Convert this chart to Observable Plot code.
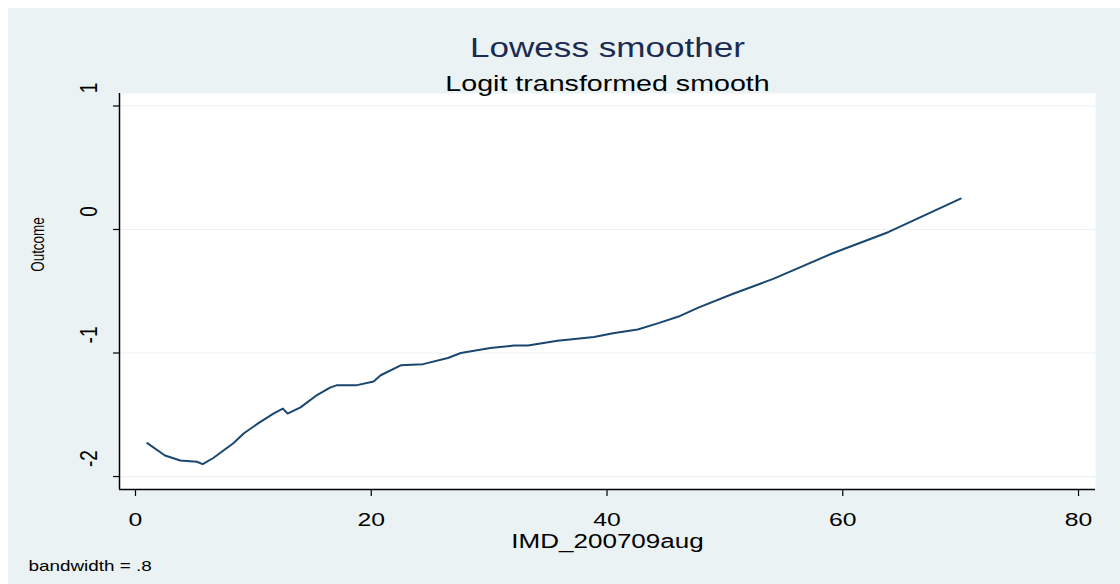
<!DOCTYPE html>
<html>
<head>
<meta charset="utf-8">
<script src="https://cdn.jsdelivr.net/npm/d3@7"></script>
<script src="https://cdn.jsdelivr.net/npm/@observablehq/plot@0.6"></script>
<style>
  html, body { margin: 0; padding: 0; overflow: hidden; background: #ffffff; }
  #wrap { padding: 8px 0 0 8px; width: 1112px; height: 576px; }
  svg { display: block; }
</style>
</head>
<body>
<div id="wrap"></div>
<script>
// ---- data ----
const imd = [1, 2.5, 3.8, 5.2, 5.7, 6.6, 8.3, 9.2, 10.4, 11.7, 12.5, 12.9, 14, 15.4, 16.5, 17.1, 18.2, 18.8, 20.2, 20.8, 22.5, 24.4, 26.5, 27.6, 30.1, 32.1, 33.3, 35.8, 38.9, 40.5, 42.6, 44.3, 46.2, 47.8, 50.7, 54.1, 59.2, 63.9, 70];
const outcome = [-1.73, -1.83, -1.87, -1.88, -1.90, -1.85, -1.73, -1.65, -1.57, -1.49, -1.45, -1.49, -1.44, -1.34, -1.28, -1.26, -1.26, -1.26, -1.23, -1.18, -1.10, -1.09, -1.04, -1.00, -0.96, -0.94, -0.94, -0.90, -0.87, -0.84, -0.81, -0.76, -0.70, -0.63, -0.52, -0.40, -0.19, -0.02, 0.25];
const xTicks = [0, 20, 40, 60, 80];
const yTicks = [-2, -1, 0, 1];
const titleText = "Lowess smoother";
const subtitleText = "Logit transformed smooth";
const xLabel = "IMD_200709aug";
const yLabel = "Outcome";
const noteText = "bandwidth = .8";

const data = imd.map((x, i) => ({x, y: outcome[i]}));

const W = 1112, H = 576;
const ml = 111, mr = 25, mt = 85, mb = 95;
const xDom = [-1.357, 81.44];
const yDom = [-2.105, 1.101];
const navy = "#1a476f";
const bg = "#eaf2f3";
const font = "'Liberation Sans', Arial, Helvetica, sans-serif";
const C = {textAnchor: "middle", lineAnchor: "middle", fill: "black"};

const chart = Plot.plot({
  width: W,
  height: H,
  marginLeft: ml,
  marginRight: mr,
  marginTop: mt,
  marginBottom: mb,
  style: {background: bg, fontFamily: font, overflow: "visible"},
  x: {domain: xDom, axis: null},
  y: {domain: yDom, axis: null},
  marks: [
    Plot.frame({fill: "white", stroke: null}),
    Plot.gridY(yTicks, {stroke: bg, strokeOpacity: 1, strokeWidth: 1.2}),
    Plot.line(data, {x: "x", y: "y", stroke: navy, strokeWidth: 2}),
    // axis lines
    Plot.ruleX([xDom[0]], {stroke: "black", strokeWidth: 1.5}),
    Plot.ruleY([yDom[0]], {stroke: "black", strokeWidth: 1.5}),
    // ticks
    Plot.axisY({ticks: yTicks, tickSize: 6, tickFormat: () => "", label: null, stroke: "black", strokeWidth: 1.2}),
    Plot.axisX({ticks: xTicks, tickSize: 7, tickFormat: () => "", label: null, stroke: "black", strokeWidth: 1.2}),
    // tick labels
    Plot.text(xTicks, {...C, x: d => d, frameAnchor: "bottom", dy: 30, text: d => String(d), fontSize: 19}),
    Plot.text(yTicks, {...C, y: d => d, frameAnchor: "left", dx: -30, dy: -18, rotate: -90, text: d => String(d), fontSize: 19}),
    // titles
    Plot.text([titleText], {...C, frameAnchor: "top", dy: -45, text: d => d, fontSize: 27, fill: "#1c2b52"}),
    Plot.text([subtitleText], {...C, frameAnchor: "top", dy: -10, text: d => d, fontSize: 22}),
    Plot.text([xLabel], {...C, frameAnchor: "bottom", dy: 52, text: d => d, fontSize: 20}),
    Plot.text([yLabel], {...C, frameAnchor: "left", dx: -81, dy: -47, rotate: -90, text: d => d, fontSize: 13.5}),
    Plot.text([noteText], {...C, frameAnchor: "bottom-left", dx: -91, dy: 77, textAnchor: "start", text: d => d, fontSize: 14.5})
  ]
});

document.getElementById("wrap").appendChild(chart);

// horizontal stretch of the glyphs, as in the reference
const stretch = 1.3;
chart.querySelectorAll("text").forEach(t => {
  const tr = t.getAttribute("transform") || "";
  if (tr.includes("rotate")) {
    t.setAttribute("transform", tr + ` scale(1,${stretch})`);
    return;
  }
  const len = t.getComputedTextLength();
  if (len > 0) {
    t.setAttribute("textLength", (len * stretch).toFixed(1));
    t.setAttribute("lengthAdjust", "spacingAndGlyphs");
  }
});
</script>
</body>
</html>
